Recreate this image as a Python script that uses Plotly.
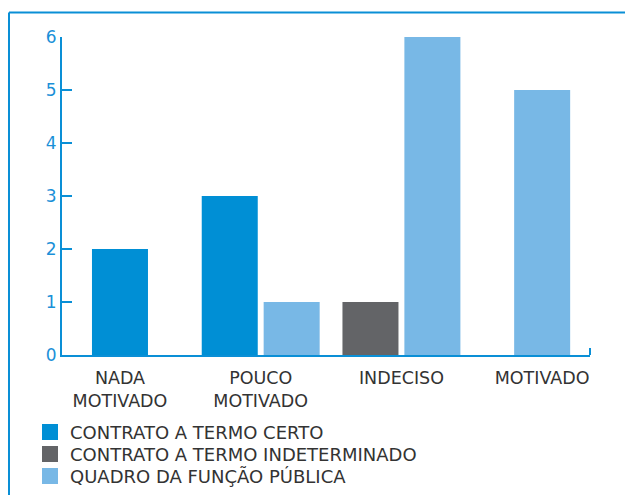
import plotly.graph_objects as go

categories = ["NADA<br>MOTIVADO", "POUCO<br>MOTIVADO", "INDECISO", "MOTIVADO"]
series_names = ["CONTRATO A TERMO CERTO", "CONTRATO A TERMO INDETERMINADO", "QUADRO DA FUNÇÃO PÚBLICA"]
termo_certo = [2, 3, 0, 0]
termo_indeterminado = [0, 0, 1, 0]
quadro_funcao_publica = [0, 1, 6, 5]
y_ticks = [0, 1, 2, 3, 4, 5, 6]

series_values = [termo_certo, termo_indeterminado, quadro_funcao_publica]
colors = ["#008fd5", "#636467", "#78b8e6"]
AX = "#0a8fd6"
TXT = "#333333"
FONT = "DejaVu Sans"

slot = 0.44
bar_w = 0.398

# plot-area geometry in pixels (used only to place legends/frame)
L, R, T, B = 62, 35, 37, 140
PW, PH = 625 - L - R, 495 - T - B

# compute centered positions of the present bars within each category
positions = [[None] * len(categories) for _ in series_values]
for i in range(len(categories)):
    present = [k for k, vals in enumerate(series_values) if vals[i] > 0]
    n = len(present)
    for j, k in enumerate(present):
        positions[k][i] = i + (j - (n - 1) / 2) * slot

fig = go.Figure()
for k, (name, vals) in enumerate(zip(series_names, series_values)):
    xs = [positions[k][i] for i in range(len(categories)) if vals[i] > 0]
    ys = [vals[i] for i in range(len(categories)) if vals[i] > 0]
    fig.add_trace(go.Bar(x=xs, y=ys, width=bar_w, marker=dict(color=colors[k], line=dict(width=0)),
                         name=name, showlegend=False, hoverinfo="skip"))

legend_names = ["legend", "legend2", "legend3"]
legend_tops = [413.8, 435.8, 457.8]
legend_layout = {}
for k, name in enumerate(series_names):
    fig.add_trace(go.Scatter(x=[None], y=[None], mode="markers", name=name,
                             marker=dict(symbol="square", size=16, color=colors[k]),
                             showlegend=True, legend=legend_names[k]))
    legend_layout[legend_names[k]] = dict(
        x=(30 - L) / PW, xanchor="left",
        y=(495 - B - legend_tops[k]) / PH, yanchor="top",
        font=dict(family=FONT, size=18, color=TXT), bgcolor="rgba(0,0,0,0)")

fig.update_layout(
    width=625, height=495,
    margin=dict(l=L, r=R, t=T, b=B, autoexpand=False),
    plot_bgcolor="white", paper_bgcolor="white",
    font=dict(family=FONT, size=17, color=TXT),
    xaxis=dict(range=[-0.412, 3.34], tickvals=list(range(len(categories))), ticktext=categories,
               showgrid=False, zeroline=False, showline=True, linecolor=AX, linewidth=2,
               ticks="", ticklabelstandoff=6, tickfont=dict(family=FONT, size=17.5, color=TXT)),
    yaxis=dict(range=[0, 6], tickvals=y_ticks, showgrid=False, zeroline=False,
               showline=True, linecolor=AX, linewidth=2,
               ticks="inside", ticklen=10, tickwidth=2, tickcolor=AX,
               tickfont=dict(family=FONT, size=17, color="#1a90d8")),
    shapes=[
        dict(type="line", xref="paper", yref="paper", x0=1, x1=1, y0=0, y1=7 / PH,
             line=dict(color=AX, width=2)),
        dict(type="line", xref="paper", yref="paper", x0=(9 - L) / PW, x1=1.2,
             y0=(495 - B - 12.5) / PH, y1=(495 - B - 12.5) / PH,
             line=dict(color=AX, width=2)),
        dict(type="line", xref="paper", yref="paper", x0=(9 - L) / PW, x1=(9 - L) / PW,
             y0=-0.5, y1=(495 - B - 12.5) / PH,
             line=dict(color=AX, width=2)),
    ],
    **legend_layout,
)

fig.write_html("out.html", config={"displayModeBar": False},
               post_script="document.body.style.margin='0';document.body.style.overflow='hidden';")
